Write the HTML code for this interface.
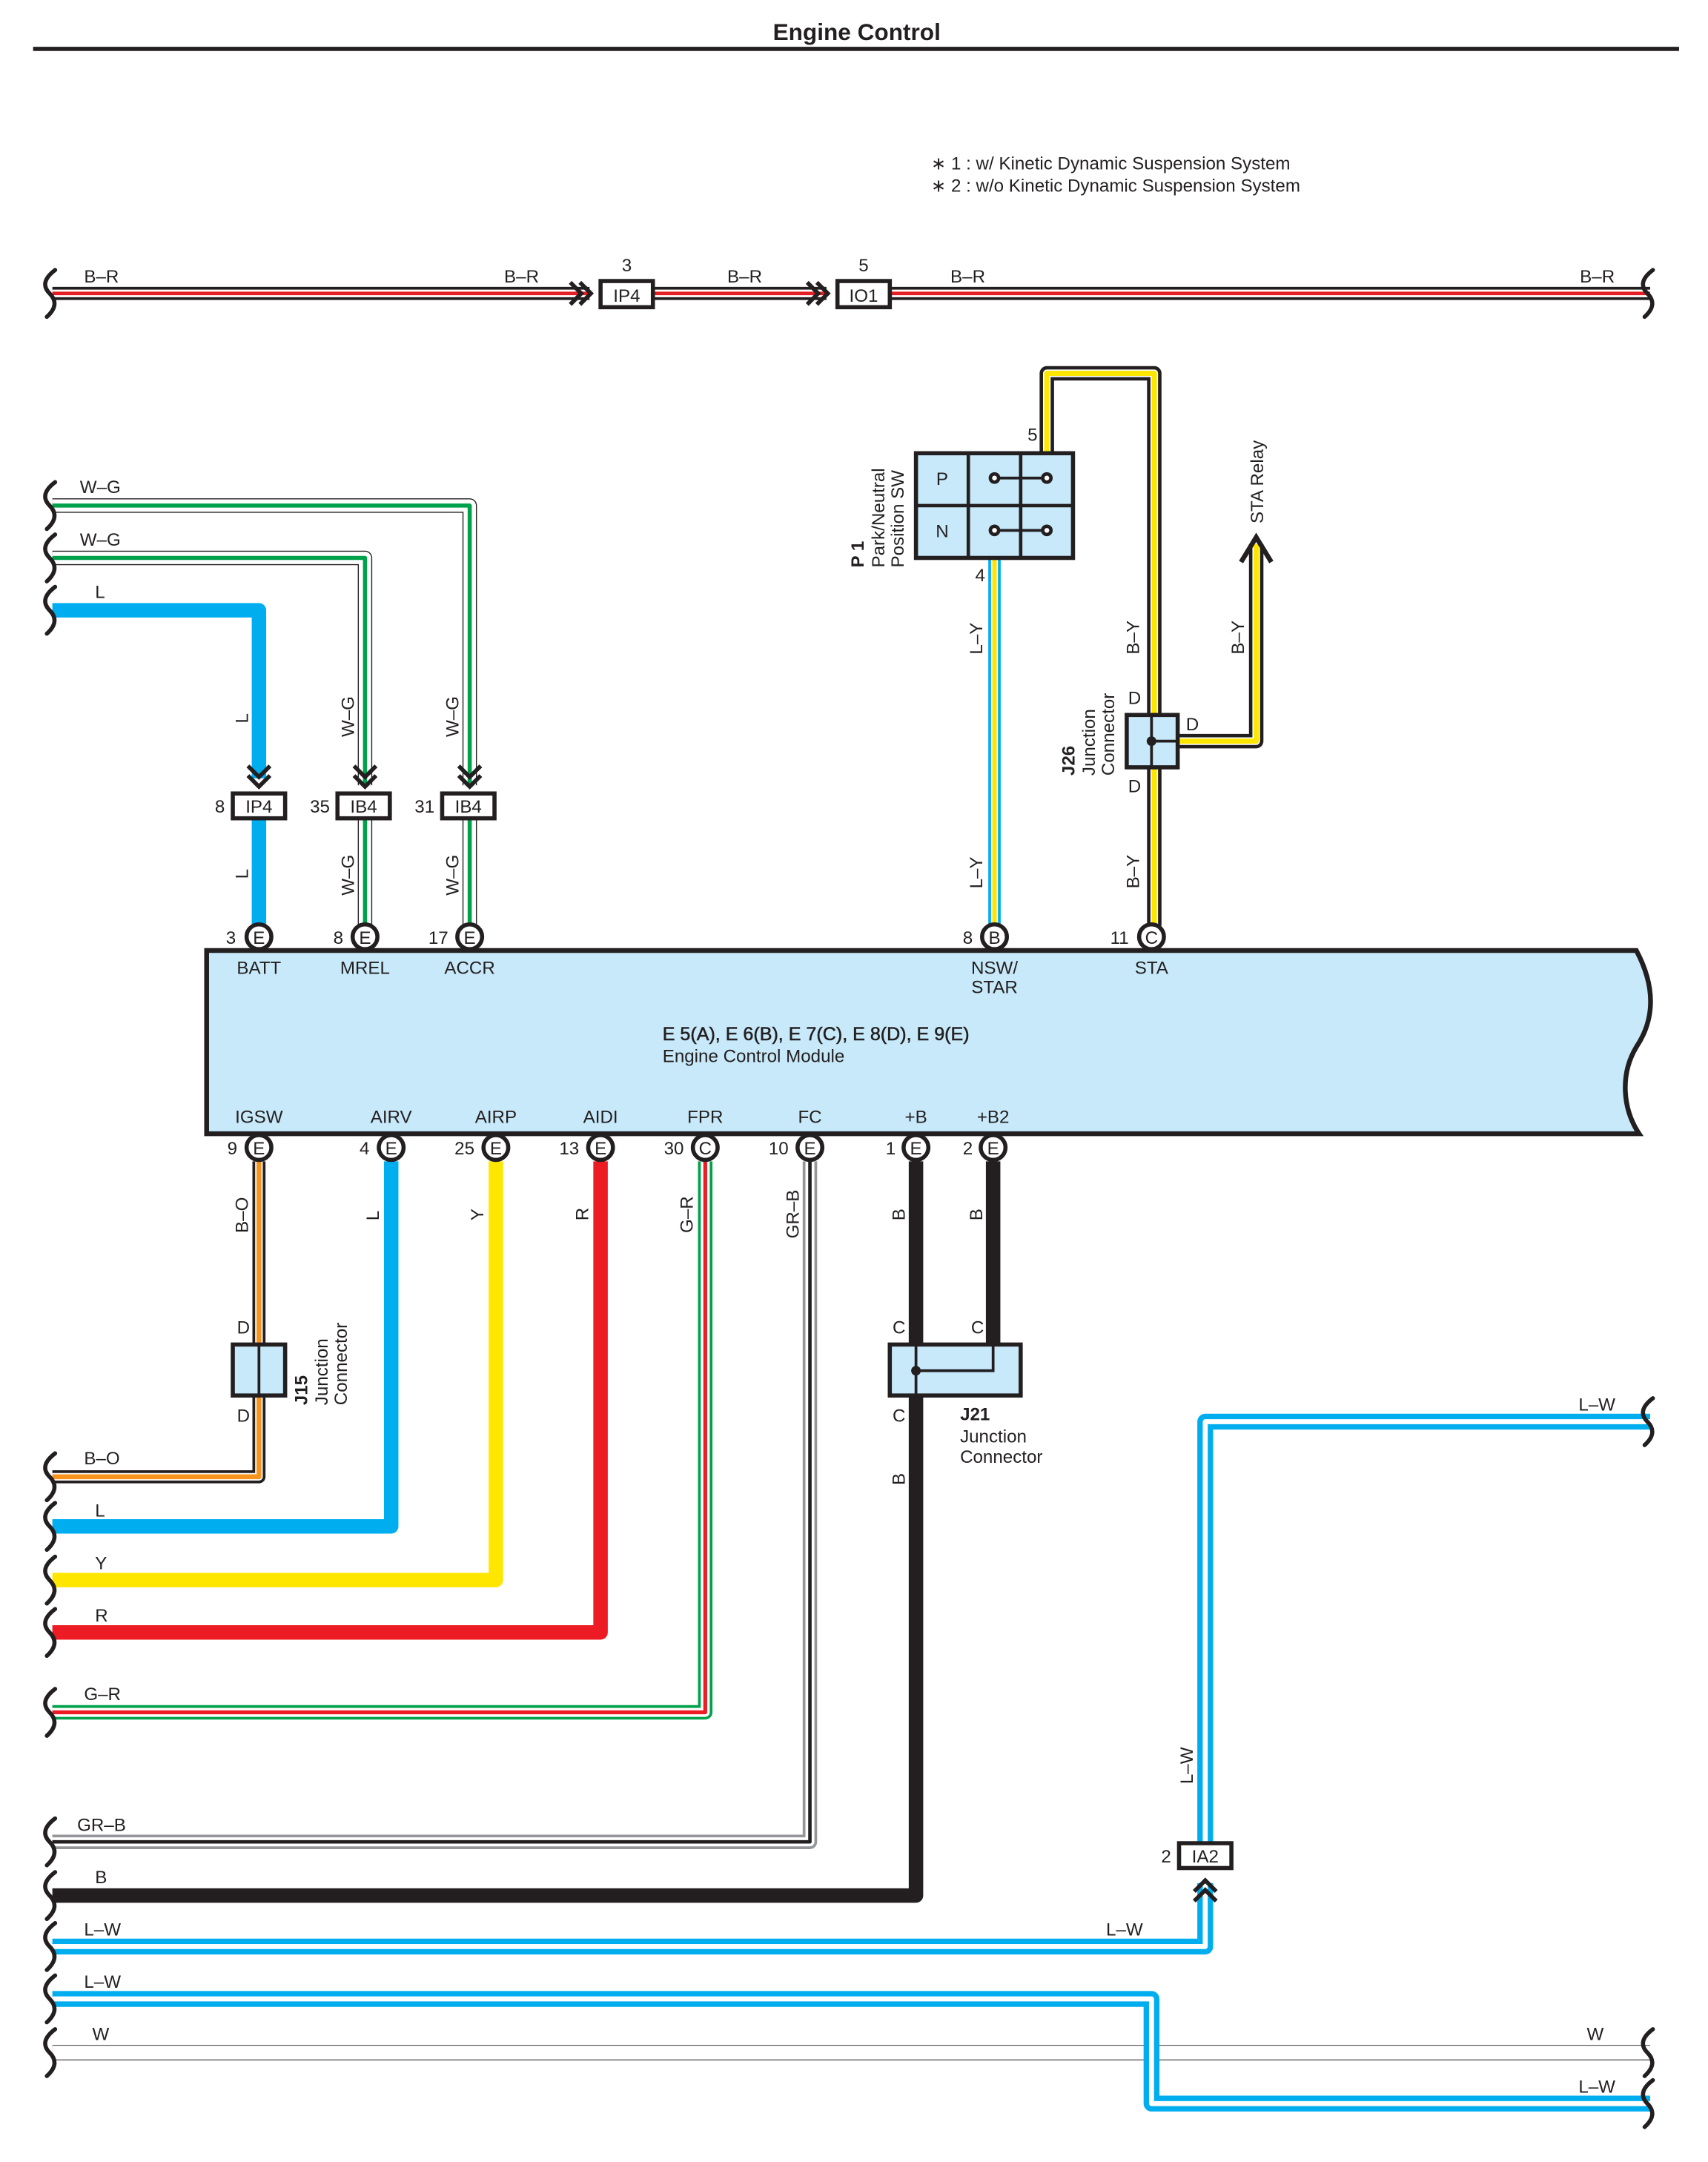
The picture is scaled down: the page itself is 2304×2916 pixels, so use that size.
<!DOCTYPE html>
<html><head><meta charset="utf-8"><style>
html,body{margin:0;padding:0;background:#fff;}
svg{display:block;}
text{font-family:"Liberation Sans",Arial,sans-serif;font-size:13px;fill:#231f20;}
.b{font-weight:bold;}
.c{text-anchor:middle;}
</style></head><body>
<svg width="2304" height="2916" viewBox="0 0 1240 1569.4" xmlns="http://www.w3.org/2000/svg">
<rect x="0" y="0" width="1240" height="1570" fill="#fff"/>
<text x="622" y="29" class="b c" style="font-size:17px">Engine Control</text>
<line x1="24" y1="35.5" x2="1219" y2="35.5" stroke="#231f20" stroke-width="3"/>
<text x="676" y="123">∗ 1 : w/ Kinetic Dynamic Suspension System</text>
<text x="676" y="139">∗ 2 : w/o Kinetic Dynamic Suspension System</text>

<g fill="none" stroke-linejoin="round">
<!-- B-R top -->
<path d="M38,213 H428 M474,213 H600 M646,213 H1198" stroke="#231f20" stroke-width="9.5"/>
<path d="M38,213 H428 M474,213 H600 M646,213 H1198" stroke="#fff" stroke-width="5.5"/>
<path d="M38,213 H428 M474,213 H600 M646,213 H1198" stroke="#e31e25" stroke-width="2.6"/>
<!-- W-G -->
<path d="M38,367 H341 V570 M341,594 V672 M38,405 H265 V570 M265,594 V672" stroke="#231f20" stroke-width="10.5"/>
<path d="M38,367 H341 V570 M341,594 V672 M38,405 H265 V570 M265,594 V672" stroke="#fff" stroke-width="9"/>
<path d="M38,367 H341 V570 M341,594 V672 M38,405 H265 V570 M265,594 V672" stroke="#00a14b" stroke-width="3"/>
<!-- L -->
<path d="M38,443 H188 V565 M188,594 V672" stroke="#00aeef" stroke-width="10.5"/>
<!-- L-Y -->
<path d="M722,405 V672" stroke="#00aeef" stroke-width="9"/>
<path d="M722,405 V672" stroke="#fff" stroke-width="5"/>
<path d="M722,405 V672" stroke="#ffe600" stroke-width="3.2"/>
<!-- B-Y -->
<path d="M760,328 V271 H838 V672 M855,538 H912 V395" stroke="#231f20" stroke-width="10.5"/>
<path d="M760,328 V271 H838 V672 M855,538 H912 V395" stroke="#fff" stroke-width="5.5"/>
<path d="M760,328 V271 H838 V672 M855,538 H912 V395" stroke="#ffe600" stroke-width="3.8"/>
<!-- B-O -->
<path d="M188,843 V1072 H38" stroke="#231f20" stroke-width="9.5"/>
<path d="M188,843 V1072 H38" stroke="#fff" stroke-width="5.5"/>
<path d="M188,843 V1072 H38" stroke="#f7941d" stroke-width="3.5"/>
<!-- solids -->
<path d="M284,843 V1108 H38" stroke="#00aeef" stroke-width="10.5"/>
<path d="M360,843 V1147 H38" stroke="#ffe600" stroke-width="10.5"/>
<path d="M436,843 V1185 H38" stroke="#ed1c24" stroke-width="10.5"/>
<!-- G-R -->
<path d="M512,843 V1243 H38" stroke="#00a14b" stroke-width="10.5"/>
<path d="M512,843 V1243 H38" stroke="#fff" stroke-width="6.5"/>
<path d="M512,843 V1243 H38" stroke="#ed1c24" stroke-width="2.8"/>
<!-- GR-B -->
<path d="M588,843 V1337 H38" stroke="#939598" stroke-width="10.5"/>
<path d="M588,843 V1337 H38" stroke="#fff" stroke-width="6.5"/>
<path d="M588,843 V1337 H38" stroke="#231f20" stroke-width="2.5"/>
<!-- B -->
<path d="M665,843 V1376 H38 M721,843 V976" stroke="#231f20" stroke-width="10.5"/>
<!-- W -->
<path d="M38,1490 H1198" stroke="#231f20" stroke-width="11"/>
<path d="M38,1490 H1198" stroke="#fff" stroke-width="10"/>
<!-- L-W -->
<path d="M38,1413 H875 V1367 M875,1337 V1032 H1198 M38,1451 H836 V1527 H1198" stroke="#00aeef" stroke-width="11.5"/>
<path d="M38,1413 H875 V1367 M875,1337 V1032 H1198 M38,1451 H836 V1527 H1198" stroke="#fff" stroke-width="3.6"/>
</g>

<g fill="none" stroke="#231f20" stroke-width="3" stroke-linecap="round">
<path d="M40,196 Q28,205 36,213 Q44,221 34,230"/>
<path d="M1200,196 Q1188,205 1196,213 Q1204,221 1194,230"/>
<path d="M40,350 Q28,359 36,367 Q44,375 34,384"/>
<path d="M40,388 Q28,397 36,405 Q44,413 34,422"/>
<path d="M40,426 Q28,435 36,443 Q44,451 34,460"/>
<path d="M40,1055 Q28,1064 36,1072 Q44,1080 34,1089"/>
<path d="M40,1091 Q28,1100 36,1108 Q44,1116 34,1125"/>
<path d="M40,1130 Q28,1139 36,1147 Q44,1155 34,1164"/>
<path d="M40,1168 Q28,1177 36,1185 Q44,1193 34,1202"/>
<path d="M40,1226 Q28,1235 36,1243 Q44,1251 34,1260"/>
<path d="M40,1320 Q28,1329 36,1337 Q44,1345 34,1354"/>
<path d="M40,1359 Q28,1368 36,1376 Q44,1384 34,1393"/>
<path d="M40,1396 Q28,1405 36,1413 Q44,1421 34,1430"/>
<path d="M40,1434 Q28,1443 36,1451 Q44,1459 34,1468"/>
<path d="M40,1473 Q28,1482 36,1490 Q44,1498 34,1507"/>
<path d="M1200,1015 Q1188,1024 1196,1032 Q1204,1040 1194,1049"/>
<path d="M1200,1473 Q1188,1482 1196,1490 Q1204,1498 1194,1507"/>
<path d="M1200,1510 Q1188,1519 1196,1527 Q1204,1535 1194,1544"/>
</g>

<g fill="none" stroke="#231f20" stroke-width="3">
<path d="M414,205 L422,213 L414,221 M421,205 L429,213 L421,221"/>
<path d="M586,205 L594,213 L586,221 M593,205 L601,213 L593,221"/>
<path d="M180,556 L188,564 L196,556 M180,563 L188,571 L196,563"/>
<path d="M257,556 L265,564 L273,556 M257,563 L265,571 L273,563"/>
<path d="M333,556 L341,564 L349,556 M333,563 L341,571 L349,563"/>
<path d="M867,1373 L875,1365 L883,1373 M867,1380 L875,1372 L883,1380"/>
<path d="M901,408 L912,390 L923,408" stroke-width="3.5"/>
</g>

<g fill="#fff" stroke="#231f20" stroke-width="3">
<rect x="436" y="204" width="38" height="19"/>
<rect x="608" y="204" width="38" height="19"/>
<rect x="169" y="576" width="38" height="18"/>
<rect x="245" y="576" width="38" height="18"/>
<rect x="321" y="576" width="38" height="18"/>
<rect x="856" y="1338" width="38" height="18"/>
</g>
<text x="455" y="219" class="c">IP4</text>
<text x="627" y="219" class="c">IO1</text>
<text x="455" y="197" class="c">3</text>
<text x="627" y="197" class="c">5</text>
<text x="188" y="590" class="c">IP4</text>
<text x="264" y="590" class="c">IB4</text>
<text x="340" y="590" class="c">IB4</text>
<text x="156" y="590">8</text>
<text x="225" y="590">35</text>
<text x="301" y="590">31</text>
<text x="875" y="1352" class="c">IA2</text>
<text x="843" y="1352">2</text>

<path d="M150,690 H1188 C1205,722 1198,745 1188,760 C1176,780 1178,805 1190,823 H150 Z" fill="#c7e9f9" stroke="#231f20" stroke-width="3.5"/>
<g fill="#fff" stroke="#231f20" stroke-width="3">
<circle cx="188" cy="680" r="9"/><circle cx="265" cy="680" r="9"/><circle cx="341" cy="680" r="9"/>
<circle cx="722" cy="680" r="9"/><circle cx="836" cy="680" r="9"/>
<circle cx="188" cy="833" r="9"/><circle cx="284" cy="833" r="9"/><circle cx="360" cy="833" r="9"/>
<circle cx="436" cy="833" r="9"/><circle cx="512" cy="833" r="9"/><circle cx="588" cy="833" r="9"/>
<circle cx="665" cy="833" r="9"/><circle cx="721" cy="833" r="9"/>
</g>
<text x="188" y="685" class="c">E</text><text x="265" y="685" class="c">E</text><text x="341" y="685" class="c">E</text>
<text x="722" y="685" class="c">B</text><text x="836" y="685" class="c">C</text>
<text x="188" y="838" class="c">E</text><text x="284" y="838" class="c">E</text><text x="360" y="838" class="c">E</text>
<text x="436" y="838" class="c">E</text><text x="512" y="838" class="c">C</text><text x="588" y="838" class="c">E</text>
<text x="665" y="838" class="c">E</text><text x="721" y="838" class="c">E</text>
<text x="164" y="685">3</text><text x="242" y="685">8</text><text x="311" y="685">17</text>
<text x="699" y="685">8</text><text x="806" y="685">11</text>
<text x="165" y="838">9</text><text x="261" y="838">4</text><text x="330" y="838">25</text>
<text x="406" y="838">13</text><text x="482" y="838">30</text><text x="558" y="838">10</text>
<text x="643" y="838">1</text><text x="699" y="838">2</text>

<text x="188" y="707" class="c">BATT</text><text x="265" y="707" class="c">MREL</text><text x="341" y="707" class="c">ACCR</text>
<text x="722" y="707" class="c">NSW/</text><text x="722" y="721" class="c">STAR</text><text x="836" y="707" class="c">STA</text>
<text x="481" y="755" style="font-size:13.5px;stroke:#231f20;stroke-width:0.3">E 5(A), E 6(B), E 7(C), E 8(D), E 9(E)</text>
<text x="481" y="771">Engine Control Module</text>
<text x="188" y="815" class="c">IGSW</text><text x="284" y="815" class="c">AIRV</text><text x="360" y="815" class="c">AIRP</text>
<text x="436" y="815" class="c">AIDI</text><text x="512" y="815" class="c">FPR</text><text x="588" y="815" class="c">FC</text>
<text x="665" y="815" class="c">+B</text><text x="721" y="815" class="c">+B2</text>

<rect x="665" y="329" width="114" height="76" fill="#c7e9f9" stroke="#231f20" stroke-width="3"/>
<path d="M703,329 V405 M741,329 V405 M665,367 H779" stroke="#231f20" stroke-width="2.5" fill="none"/>
<path d="M722,347 H760 M722,385 H760" stroke="#231f20" stroke-width="2"/>
<g fill="#fff" stroke="#231f20" stroke-width="2.5">
<circle cx="722" cy="347" r="3"/><circle cx="760" cy="347" r="3"/><circle cx="722" cy="385" r="3"/><circle cx="760" cy="385" r="3"/>
</g>
<text x="684" y="352" class="c">P</text><text x="684" y="390" class="c">N</text>
<text x="746" y="320">5</text><text x="708" y="422">4</text>
<g transform="translate(627,412) rotate(-90)"><text x="0" y="0" class="b">P 1</text><text x="0" y="15">Park/Neutral</text><text x="0" y="29">Position SW</text></g>

<rect x="818" y="519" width="37" height="38" fill="#c7e9f9" stroke="#231f20" stroke-width="3"/>
<path d="M836,519 V557 M836,538 H855" stroke="#231f20" stroke-width="2"/>
<circle cx="836" cy="538" r="3.5" fill="#231f20"/>
<text x="819" y="511">D</text><text x="861" y="530">D</text><text x="819" y="575">D</text>
<g transform="translate(780,563) rotate(-90)"><text x="0" y="0" class="b">J26</text><text x="0" y="15">Junction</text><text x="0" y="29">Connector</text></g>
<g transform="translate(917,380) rotate(-90)"><text x="0" y="0">STA Relay</text></g>

<rect x="169" y="976" width="38" height="37" fill="#c7e9f9" stroke="#231f20" stroke-width="3"/>
<path d="M188,976 V1013" stroke="#231f20" stroke-width="2"/>
<text x="172" y="968">D</text><text x="172" y="1032">D</text>
<g transform="translate(223,1020) rotate(-90)"><text x="0" y="0" class="b">J15</text><text x="0" y="15">Junction</text><text x="0" y="29">Connector</text></g>

<rect x="646" y="976" width="95" height="37" fill="#c7e9f9" stroke="#231f20" stroke-width="3"/>
<path d="M665,976 V1013 M665,995 H721 V976" stroke="#231f20" stroke-width="2" fill="none"/>
<circle cx="665" cy="995" r="3.5" fill="#231f20"/>
<text x="648" y="968">C</text><text x="705" y="968">C</text><text x="648" y="1032">C</text>
<text x="697" y="1031" class="b">J21</text><text x="697" y="1047">Junction</text><text x="697" y="1062">Connector</text>

<text x="61" y="205">B–R</text><text x="366" y="205">B–R</text><text x="528" y="205">B–R</text><text x="690" y="205">B–R</text><text x="1147" y="205">B–R</text>
<text x="58" y="358">W–G</text><text x="58" y="396">W–G</text><text x="69" y="434">L</text>
<text x="61" y="1063">B–O</text><text x="69" y="1101">L</text><text x="69" y="1139">Y</text><text x="69" y="1177">R</text>
<text x="61" y="1234">G–R</text><text x="56" y="1329">GR–B</text><text x="69" y="1367">B</text>
<text x="61" y="1405">L–W</text><text x="61" y="1443">L–W</text><text x="67" y="1481">W</text>
<text x="803" y="1405">L–W</text><text x="1146" y="1024">L–W</text><text x="1152" y="1481">W</text><text x="1146" y="1519">L–W</text>

<text transform="translate(180,525) rotate(-90)">L</text>
<text transform="translate(257,535) rotate(-90)">W–G</text>
<text transform="translate(333,535) rotate(-90)">W–G</text>
<text transform="translate(180,638) rotate(-90)">L</text>
<text transform="translate(257,650) rotate(-90)">W–G</text>
<text transform="translate(333,650) rotate(-90)">W–G</text>
<text transform="translate(713,475) rotate(-90)">L–Y</text>
<text transform="translate(713,645) rotate(-90)">L–Y</text>
<text transform="translate(827,475) rotate(-90)">B–Y</text>
<text transform="translate(903,475) rotate(-90)">B–Y</text>
<text transform="translate(827,645) rotate(-90)">B–Y</text>
<text transform="translate(180,895) rotate(-90)">B–O</text>
<text transform="translate(275,886) rotate(-90)">L</text>
<text transform="translate(351,886) rotate(-90)">Y</text>
<text transform="translate(427,886) rotate(-90)">R</text>
<text transform="translate(503,895) rotate(-90)">G–R</text>
<text transform="translate(580,899) rotate(-90)">GR–B</text>
<text transform="translate(657,886) rotate(-90)">B</text>
<text transform="translate(713,886) rotate(-90)">B</text>
<text transform="translate(657,1078) rotate(-90)">B</text>
<text transform="translate(866,1295) rotate(-90)">L–W</text>
</svg>
</body></html>
